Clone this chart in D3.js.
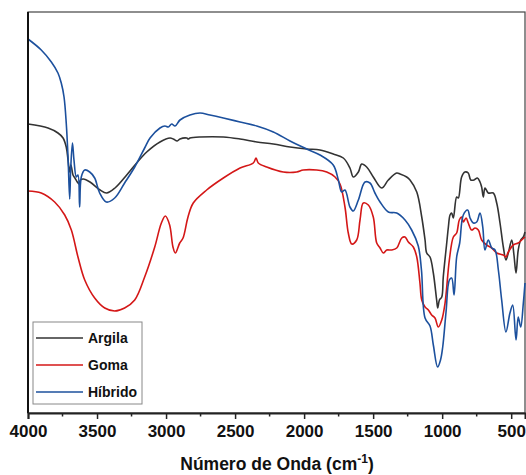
<!DOCTYPE html>
<html>
<head>
<meta charset="utf-8">
<script src="https://cdn.jsdelivr.net/npm/d3@7"></script>
<style>
  body { margin: 0; background: #fff; }
  svg text { font-family: Arial, "Liberation Sans", sans-serif; font-weight: bold; fill: #111; }
</style>
</head>
<body>
<svg id="chart" width="526" height="475"></svg>
<script>
// FTIR spectra: [wavenumber (cm-1), transmittance (a.u.)]
const argila = [
  [4000,289],[3855,285],[3783,280],[3746,275],[3723,266],[3710,253],[3699,241],[3689,248],
  [3674,238],[3660,235],[3643,231],[3631,229],[3620,233],[3600,234],[3551,231],[3478,223],
  [3431,220],[3370,225],[3285,238],[3213,250],[3140,261],[3044,271],[2971,275],[2948,274],
  [2919,272],[2899,274],[2850,275],[2839,274],[2827,275],[2754,276],[2585,276],[2464,274],
  [2343,271],[2223,269],[2102,266],[1981,264],[1885,263],[1789,259],[1716,255],[1668,245],
  [1644,236],[1607,241],[1583,249],[1547,246],[1499,236],[1438,225],[1390,233],[1329,240],
  [1305,239],[1257,236],[1233,233],[1184,221],[1148,196],[1124,173],[1112,160],[1088,156],
  [1064,140],[1040,113],[1032,105],[1020,113],[1003,116],[992,136],[967,170],[955,186],
  [943,198],[931,200],[919,195],[895,216],[883,215],[859,236],[835,241],[811,240],[793,233],
  [769,233],[745,235],[726,231],[714,226],[702,216],[690,225],[666,220],[630,220],[605,210],
  [581,190],[557,166],[538,153],[521,160],[496,173],[480,158],[465,140],[449,163],[431,173],
  [412,176],[400,181]
];

const goma = [
  [4000,222],[3904,220],[3807,211],[3734,198],[3686,183],[3638,156],[3589,133],[3517,115],
  [3444,105],[3372,102],[3300,105],[3227,113],[3155,136],[3082,166],[3034,190],[3005,197],
  [2974,188],[2950,166],[2933,160],[2901,170],[2877,175],[2841,196],[2803,210],[2706,223],
  [2585,235],[2464,245],[2368,250],[2348,255],[2332,250],[2271,246],[2151,241],[2054,241],
  [2006,243],[1909,243],[1836,241],[1776,236],[1740,229],[1704,206],[1680,180],[1655,169],
  [1619,173],[1595,193],[1571,210],[1535,208],[1499,196],[1474,170],[1450,165],[1426,160],
  [1402,163],[1366,163],[1329,165],[1293,175],[1269,176],[1245,171],[1209,166],[1184,156],
  [1161,130],[1148,113],[1124,106],[1100,103],[1076,98],[1052,95],[1028,86],[1003,93],
  [979,110],[948,153],[919,176],[895,180],[876,193],[859,196],[847,191],[827,195],[811,190],
  [786,183],[762,185],[738,183],[714,173],[678,168],[641,165],[605,160],[557,158],[538,156],
  [521,161],[485,168],[449,170],[424,173],[400,176]
];

const hibrido = [
  [4000,374],[3904,363],[3831,351],[3783,340],[3759,330],[3739,316],[3723,290],[3710,256],
  [3698,214],[3691,243],[3678,270],[3667,253],[3650,236],[3638,238],[3626,206],[3614,236],
  [3589,243],[3553,241],[3517,235],[3481,220],[3433,211],[3372,215],[3300,230],[3227,246],
  [3155,265],[3116,275],[3044,285],[3008,287],[2984,286],[2959,289],[2935,287],[2899,293],
  [2827,298],[2754,300],[2682,298],[2585,295],[2464,291],[2343,287],[2223,281],[2102,272],
  [1981,264],[1885,258],[1789,248],[1752,233],[1728,221],[1704,223],[1668,206],[1644,202],
  [1607,213],[1559,231],[1523,230],[1487,220],[1450,211],[1390,201],[1329,200],[1269,193],
  [1221,183],[1173,167],[1150,143],[1124,95],[1088,87],[1064,68],[1033,46],[1012,53],
  [996,66],[972,101],[948,133],[931,135],[914,118],[895,156],[873,170],[847,198],[815,203],
  [798,195],[774,190],[750,191],[726,200],[706,186],[690,163],[666,173],[641,165],[617,163],
  [593,143],[569,113],[538,81],[509,100],[489,108],[465,73],[449,96],[431,86],[412,110],
  [400,130]
];

const seriesNames = ["Argila", "Goma", "Híbrido"];
const seriesColors = ["#333333", "#d41717", "#1c509d"];
const xTicks = [4000, 3500, 3000, 2500, 2000, 1500, 1000, 500];
const xMinorTicks = [3750, 3250, 2750, 2250, 1750, 1250, 750];

const svg = d3.select('#chart');
const plotLeft = 28, plotRight = 525, plotTop = 12, plotBottom = 413;

const x = d3.scaleLinear().domain([4000, 400]).range([plotLeft, plotRight]);
const y = d3.scaleLinear().domain([0, 401]).range([plotBottom, plotTop]);

const line = d3.line()
    .x(d => x(d[0]))
    .y(d => y(d[1]))
    .curve(d3.curveCatmullRom.alpha(0.5));

// moldura
svg.append('rect')
    .attr('x', plotLeft).attr('y', plotTop)
    .attr('width', plotRight - plotLeft).attr('height', plotBottom - plotTop)
    .attr('fill', 'none')
    .attr('stroke', '#444')
    .attr('stroke-width', 1.2);

const plot = svg.append('g');
[argila, goma, hibrido].forEach((data, i) => {
    plot.append('path')
        .datum(data)
        .attr('d', line)
        .attr('fill', 'none')
        .attr('stroke', seriesColors[i])
        .attr('stroke-width', 1.6)
        .attr('stroke-linejoin', 'round');
});

// eixo y (sem rotulos)
svg.append('line')
    .attr('x1', plotLeft).attr('x2', plotLeft)
    .attr('y1', plotTop).attr('y2', plotBottom)
    .attr('stroke', '#111').attr('stroke-width', 2);

// eixo x
const xAxis = svg.append('g')
    .attr('transform', `translate(0,${plotBottom})`)
    .call(d3.axisBottom(x).tickValues(xTicks).tickSize(6).tickPadding(6).tickFormat(d3.format('d')));
xAxis.select('.domain').attr('stroke', '#222').attr('stroke-width', 2);
xAxis.selectAll('.tick line').attr('stroke', '#222').attr('stroke-width', 1.5);
xAxis.selectAll('.tick text')
    .style('font-size', '17px')
    .style('font-weight', 'bold')
    .attr('fill', '#111');

svg.append('g')
    .attr('transform', `translate(0,${plotBottom})`)
    .selectAll('line')
    .data(xMinorTicks)
    .enter()
    .append('line')
    .attr('x1', d => x(d)).attr('x2', d => x(d))
    .attr('y1', 0).attr('y2', 3.5)
    .attr('stroke', '#222').attr('stroke-width', 1.5);

// titulo do eixo
const title = svg.append('text')
    .attr('x', 277)
    .attr('y', 470)
    .attr('text-anchor', 'middle')
    .style('font-size', '17.5px');
title.append('tspan').text('Número de Onda (cm');
title.append('tspan').attr('dy', -7).style('font-size', '12px').text('-1');
title.append('tspan').attr('dy', 7).text(')');

// legenda
const legend = svg.append('g');
legend.append('rect')
    .attr('x', 33).attr('y', 322)
    .attr('width', 109).attr('height', 82)
    .attr('fill', '#fff')
    .attr('stroke', '#888')
    .attr('stroke-width', 1);

const items = legend.selectAll('g.item')
    .data(seriesNames)
    .enter()
    .append('g')
    .attr('class', 'item')
    .attr('transform', (d, i) => `translate(0,${338 + i * 27})`);

items.append('line')
    .attr('x1', 36).attr('x2', 83)
    .attr('y1', 0).attr('y2', 0)
    .attr('stroke', (d, i) => seriesColors[i])
    .attr('stroke-width', 1.6);

items.append('text')
    .attr('x', 88)
    .attr('y', 5)
    .style('font-size', '14px')
    .text(d => d);
</script>
</body>
</html>
